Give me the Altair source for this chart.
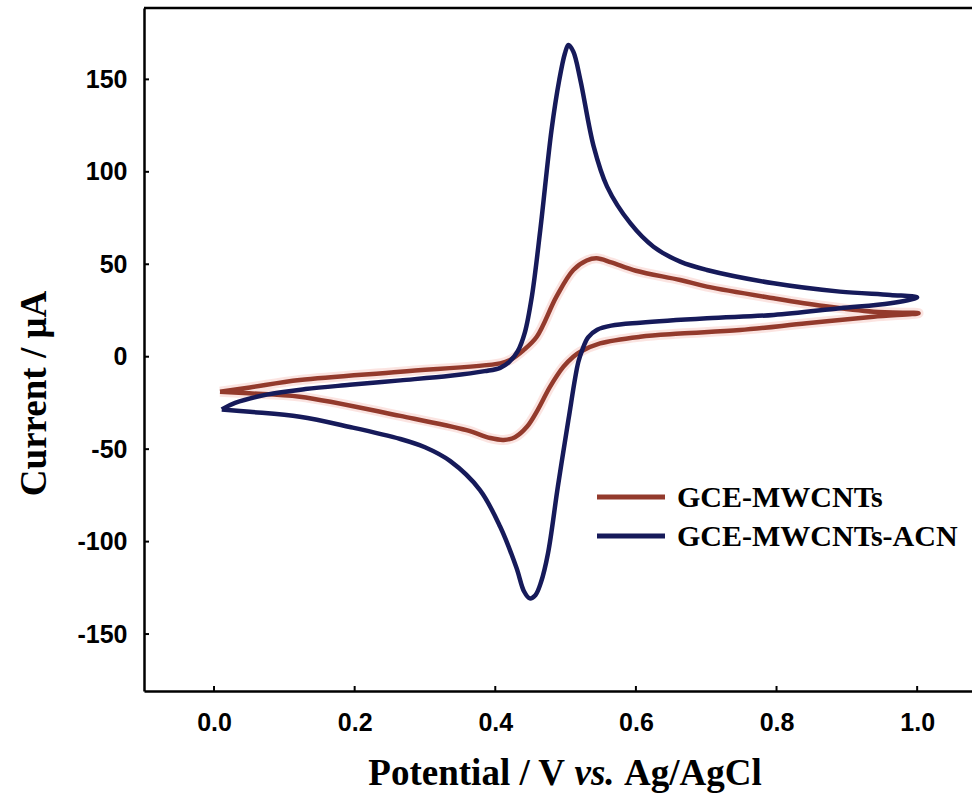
import altair as alt
import pandas as pd

# ---------------- data ----------------
series_names = ["GCE-MWCNTs", "GCE-MWCNTs-ACN"]
series_colors = ["#933a2c", "#161a5a"]

red_E = [0.0085, 0.051, 0.122, 0.265, 0.407, 0.421, 0.440, 0.459, 0.487, 0.511,
         0.530, 0.544, 0.565, 0.600, 0.663, 0.701, 0.796, 0.867, 0.938, 1.002,
         0.938, 0.843, 0.748, 0.663, 0.606, 0.549, 0.521, 0.511, 0.497, 0.478,
         0.460, 0.445, 0.428, 0.412, 0.393, 0.359, 0.265, 0.122, 0.050, 0.0085]
red_I = [-18.9, -16.6, -12.6, -8.1, -3.6, -1.8, 3.5, 10.8, 32.5, 46.9,
         52.0, 53.2, 51.0, 46.5, 41.5, 37.9, 31.6, 27.4, 24.3, 23.5,
         21.6, 18.1, 14.4, 12.5, 10.8, 7.2, 2.7, 0.0, -5.4, -16.2,
         -29.0, -37.9, -43.5, -45.0, -44.0, -39.7, -32.0, -21.6, -19.8, -18.9]

blue_E = [0.011, 0.030, 0.075, 0.130, 0.193, 0.265, 0.336, 0.385, 0.407, 0.420,
          0.432, 0.442, 0.452, 0.464, 0.480, 0.491, 0.499, 0.504, 0.511, 0.521,
          0.540, 0.559, 0.592, 0.625, 0.663, 0.701, 0.796, 0.890, 0.962, 1.000,
          0.962, 0.890, 0.796, 0.701, 0.606, 0.565, 0.545, 0.532, 0.524, 0.518,
          0.504, 0.489, 0.475, 0.465, 0.457, 0.449, 0.441, 0.430, 0.407, 0.378,
          0.336, 0.300, 0.265, 0.193, 0.122, 0.051, 0.011]
blue_I = [-28.5, -25.0, -20.5, -17.5, -15.2, -12.8, -10.3, -7.8, -6.0, -2.8,
          3.0, 13.0, 32.5, 68.5, 122.6, 149.7, 164.0, 168.6, 165.0, 149.7,
          113.6, 92.0, 72.2, 59.5, 51.4, 46.9, 39.7, 35.2, 33.4, 32.1,
          28.9, 26.2, 22.6, 20.8, 18.4, 16.8, 14.6, 10.5, 4.0, -3.0,
          -34.2, -70.3, -106.3, -122.0, -129.0, -130.7, -127.0, -114.0, -92.0, -72.0,
          -56.5, -49.0, -44.5, -38.0, -32.5, -29.8, -28.5]

x_ticks = [0.0, 0.2, 0.4, 0.6, 0.8, 1.0]
y_ticks = [-150, -100, -50, 0, 50, 100, 150]

x_title_parts = ["Potential / V", "vs.", "Ag/AgCl"]
y_title = "Current / \u03bcA"

# ---------------- table ----------------
rows = []
for name, E, I in [(series_names[0], red_E, red_I), (series_names[1], blue_E, blue_I)]:
    for k, (e, i) in enumerate(zip(E, I)):
        rows.append({"series": name, "E": e, "I": i, "k": k})
df = pd.DataFrame(rows)
df_red = df[df.series == series_names[0]]

W, H = 828, 683
xs = alt.Scale(domain=[-0.0996, 1.078], nice=False, zero=False)
ys = alt.Scale(domain=[-180.8, 188.6], nice=False, zero=False)

x_axis = alt.Axis(values=x_ticks, format=".1f", labelFont="Liberation Sans",
                  labelFontWeight="bold", labelFontSize=25, labelColor="black",
                  ticks=False, grid=False, domainColor="black", domainWidth=2.5,
                  labelPadding=19, title=None)
y_axis = alt.Axis(values=y_ticks, labelFont="Liberation Sans",
                  labelExpr="datum.value < 0 ? '-' + format(-datum.value, 'd') : format(datum.value, 'd')",
                  labelFontWeight="bold", labelFontSize=25, labelColor="black",
                  ticks=False, grid=False, domainColor="black", domainWidth=2.5,
                  labelPadding=17, title=y_title, titleFont="Liberation Serif",
                  titleFontWeight="bold", titleFontSize=37, titleColor="black",
                  titleX=-99, titleY=385, titleBaseline="alphabetic", titleAlign="center")

halo = alt.Chart(df_red).mark_line(interpolate="catmull-rom", strokeWidth=10,
                                    color="#f3b2aa", opacity=0.35).encode(
    x=alt.X("E:Q", scale=xs, axis=x_axis),
    y=alt.Y("I:Q", scale=ys, axis=y_axis),
    order="k:Q",
)

lines = alt.Chart(df).mark_line(interpolate="catmull-rom", strokeWidth=4.5).encode(
    x=alt.X("E:Q", scale=xs, axis=x_axis),
    y=alt.Y("I:Q", scale=ys, axis=y_axis),
    color=alt.Color("series:N", scale=alt.Scale(domain=series_names, range=series_colors),
                    legend=None),
    detail="series:N",
    order="k:Q",
)

xt = alt.Chart(pd.DataFrame({"t": x_ticks})).mark_rule(color="black", strokeWidth=2).encode(
    x=alt.X("t:Q", scale=xs, axis=x_axis), y=alt.value(H), y2=alt.value(H - 5))
yt = alt.Chart(pd.DataFrame({"t": y_ticks})).mark_rule(color="black", strokeWidth=2).encode(
    y=alt.Y("t:Q", scale=ys, axis=y_axis), x=alt.value(0), x2=alt.value(5))

one = alt.Data(values=[{}])
top_line = alt.Chart(one).mark_rule(color="black", strokeWidth=2.5).encode(
    x=alt.value(0), x2=alt.value(W), y=alt.value(0))

# legend (drawn by hand)
leg_x0, leg_x1, leg_y0, leg_dy, leg_tx = 453, 521, 489, 39, 533
legend_layers = []
for idx, (name, col) in enumerate(zip(series_names, series_colors)):
    yy = leg_y0 + leg_dy * idx
    legend_layers.append(alt.Chart(one).mark_rule(color=col, strokeWidth=5).encode(
        x=alt.value(leg_x0), x2=alt.value(leg_x1), y=alt.value(yy)))
    legend_layers.append(alt.Chart(one).mark_text(
        align="left", baseline="middle", font="Liberation Serif", fontWeight="bold",
        fontSize=30, color="black").encode(
        x=alt.value(leg_tx), y=alt.value(yy + 1), text=alt.value(name)))

# x-axis title with italic "vs."
tfs = 37
ty = 777
xt1 = alt.Chart(one).mark_text(align="right", baseline="alphabetic", font="Liberation Serif",
                               fontWeight="bold", fontSize=tfs, color="black").encode(
    x=alt.value(421), y=alt.value(ty), text=alt.value(x_title_parts[0]))
xt2 = alt.Chart(one).mark_text(align="center", baseline="alphabetic", font="Liberation Serif",
                               fontWeight="bold", fontStyle="italic", fontSize=tfs,
                               color="black").encode(
    x=alt.value(450.5), y=alt.value(ty), text=alt.value(x_title_parts[1]))
xt3 = alt.Chart(one).mark_text(align="left", baseline="alphabetic", font="Liberation Serif",
                               fontWeight="bold", fontSize=tfs, color="black").encode(
    x=alt.value(480), y=alt.value(ty), text=alt.value(x_title_parts[2]))

chart = alt.layer(halo, lines, xt, yt, top_line, *legend_layers, xt1, xt2, xt3).properties(
    width=W, height=H,
    autosize=alt.AutoSizeParams(type="none"),
    padding={"left": 144, "top": 8, "right": 0, "bottom": 104},
    background="white",
).configure_view(stroke=None)

chart.save("out.html", embed_options={"renderer": "svg", "actions": False})
